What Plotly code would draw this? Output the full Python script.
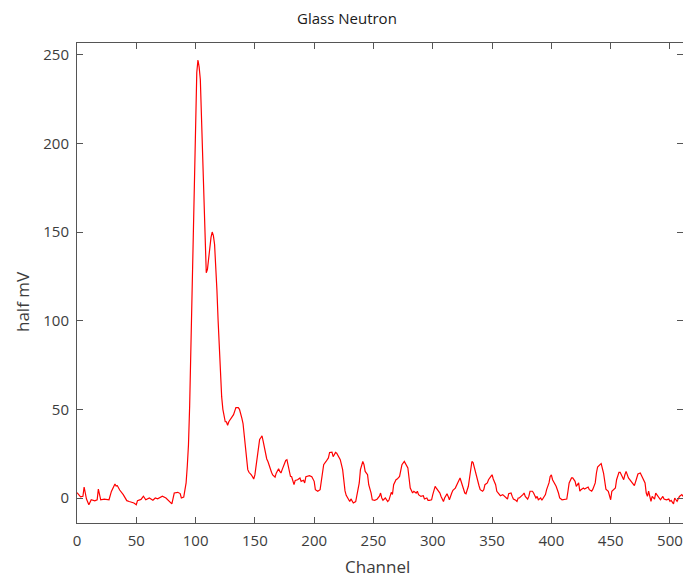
import plotly.graph_objects as go

# Spectrum samples: channel number and signal in half mV
channel = [
    0, 3, 5, 6, 8, 10, 12, 15, 17, 18, 20, 23, 27, 29, 32, 33, 34, 36, 39, 42,
    44, 48, 50, 51, 54, 56, 58, 61, 64, 66, 68, 72, 75, 78, 80, 82, 85, 87, 88, 90,
    92, 93, 94, 95, 96, 97, 98, 99, 100, 101, 102, 103, 104, 105, 106, 107, 108, 109, 110, 111,
    112, 113, 114, 115, 116, 117, 118, 119, 120, 121, 122, 123, 124, 125, 126, 127, 128, 129, 130, 131,
    132, 133, 134, 135, 136, 137, 138, 139, 140, 141, 142, 143, 144, 145, 146, 147, 148, 149, 150, 151,
    152, 153, 154, 155, 156, 157, 158, 159, 160, 161, 162, 163, 164, 165, 166, 167, 168, 169, 170, 171,
    172, 173, 174, 175, 176, 177, 178, 179, 180, 181, 182, 183, 184, 186, 188, 189, 191, 192, 193, 196,
    198, 200, 201, 203, 205, 207, 208, 210, 212, 213, 215, 216, 218, 219, 221, 222, 224, 225, 226, 227,
    229, 230, 231, 233, 235, 236, 238, 239, 241, 242, 243, 245, 246, 248, 249, 251, 253, 255, 256, 257,
    258, 260, 262, 263, 265, 266, 267, 269, 270, 272, 273, 274, 276, 277, 279, 280, 281, 283, 284, 286,
    287, 288, 290, 292, 293, 295, 296, 297, 299, 300, 302, 303, 305, 306, 307, 309, 310, 312, 313, 314,
    316, 317, 319, 320, 321, 323, 324, 326, 327, 328, 330, 331, 332, 333, 334, 335, 336, 337, 339, 340,
    342, 343, 344, 346, 347, 349, 350, 351, 353, 354, 356, 357, 359, 360, 361, 363, 364, 366, 367, 368,
    370, 371, 372, 373, 376, 377, 378, 380, 381, 382, 384, 385, 387, 388, 389, 391, 392, 394, 395, 396,
    398, 399, 400, 401, 403, 404, 406, 407, 409, 411, 413, 414, 415, 417, 418, 420, 421, 423, 424, 425,
    427, 428, 430, 431, 432, 434, 435, 437, 438, 439, 441, 442, 444, 445, 446, 448, 449, 450, 451, 453,
    454, 455, 457, 458, 460, 461, 462, 463, 465, 466, 468, 469, 470, 472, 473, 475, 476, 477, 479, 480,
    481, 482, 484, 485, 487, 488, 490, 491, 492, 494, 495, 497, 499, 500, 501, 503, 504, 506, 507, 508,
    510, 511,
]

half_mv = [
    3.0, 0.6, 1.0, 6.2, -0.6, -3.8, -1.0, -1.6, -1.0, 5.0, -1.0, -0.6, -1.0, 3.7, 7.9, 6.8, 7.0, 4.5, 1.9, -1.5,
    -2.0, -2.8, -3.8, -1.5, -0.8, 1.0, -1.0, 0.0, -1.3, 0.0, -0.5, 1.0, 0.0, -2.0, -3.3, 2.8, 3.2, 2.5, 0.0, 0.5,
    8.5, 18.0, 30.0, 52.0, 85.0, 120.0, 160.0, 195.0, 222.0, 240.0, 247.0, 243.0, 236.0, 212.0, 186.0, 163.0, 142.0, 127.0, 129.0, 136.0,
    143.0, 147.0, 150.0, 148.0, 143.0, 132.0, 117.0, 100.0, 83.0, 70.0, 57.0, 50.0, 45.0, 43.0, 43.0, 41.0, 43.0, 44.0, 45.0, 46.0,
    47.0, 49.0, 51.0, 51.0, 51.0, 50.0, 48.0, 45.0, 42.0, 35.0, 28.0, 21.0, 16.0, 14.5, 14.0, 13.0, 12.0, 10.7, 13.0, 18.0,
    23.0, 27.0, 33.0, 34.0, 35.0, 32.0, 28.0, 24.0, 22.0, 20.6, 18.0, 16.0, 14.5, 13.0, 12.5, 11.8, 14.0, 15.5, 16.5, 15.0,
    14.1, 16.0, 18.0, 20.5, 21.2, 21.6, 19.0, 15.0, 12.2, 12.0, 9.5, 7.5, 9.9, 10.3, 11.3, 9.4, 10.0, 8.5, 12.0, 12.6,
    12.0, 9.4, 4.7, 3.8, 4.7, 13.1, 18.8, 20.6, 22.6, 25.7, 25.9, 23.3, 25.7, 25.3, 22.9, 21.6, 16.0, 8.5, 4.0, 1.5,
    -1.0, -2.0, -0.5, -2.8, -2.0, 0.9, 8.5, 16.0, 20.6, 18.8, 15.0, 13.1, 7.5, 2.8, -1.0, -1.3, -0.7, 1.0, 2.8, 0.0,
    -1.3, 0.0, -2.0, -1.3, 3.2, 2.0, 7.5, 10.3, 10.7, 12.2, 16.0, 18.8, 20.6, 19.6, 16.9, 11.3, 5.6, 2.8, 3.8, 2.8,
    3.8, 1.9, 0.9, 1.3, -0.6, 0.0, -1.3, -1.3, -1.0, 1.9, 6.6, 5.6, 3.8, 2.8, 0.9, -2.0, 0.0, 2.4, 0.9, -1.0,
    2.8, 4.3, 5.6, 7.5, 8.5, 11.3, 9.4, 5.0, 2.8, 2.4, 6.6, 11.3, 15.0, 20.6, 20.0, 17.0, 15.0, 11.3, 6.9, 4.7,
    3.8, 4.7, 7.5, 8.5, 10.3, 12.2, 13.1, 10.7, 7.5, 3.8, 1.9, 1.3, 1.9, 1.3, 0.9, -0.6, 2.4, 2.8, 0.9, -0.6,
    -1.3, -1.9, 0.0, 0.0, 1.9, 2.8, 0.9, -0.6, 0.9, 3.8, 3.8, 2.8, 0.0, 0.9, -1.0, 0.0, -1.3, 0.9, 1.9, 4.7,
    8.5, 12.2, 13.1, 10.3, 7.5, 6.6, 2.8, 0.0, -1.0, -1.0, -0.6, 3.8, 8.5, 11.3, 11.3, 9.4, 6.6, 8.5, 3.8, 4.7,
    5.6, 5.0, 5.6, 6.2, 4.7, 3.8, 5.0, 8.5, 14.1, 17.5, 18.8, 19.4, 14.1, 8.5, 5.0, 3.8, 1.9, -1.0, 3.8, 4.7,
    5.6, 10.3, 14.5, 14.5, 12.2, 10.3, 13.1, 15.0, 11.3, 10.3, 8.8, 7.9, 7.0, 11.3, 13.5, 14.1, 12.8, 10.7, 8.5, 2.8,
    0.9, 3.8, -1.9, 0.9, -0.6, 2.8, 0.9, 0.0, -1.0, 0.9, -0.6, -1.0, -0.6, -1.9, -1.3, -3.3, 0.0, -1.9, 0.0, 0.9,
    1.9, 0.9,
]

x_ticks = [0, 50, 100, 150, 200, 250, 300, 350, 400, 450, 500]
y_ticks = [0, 50, 100, 150, 200, 250]

FONT = "Open Sans"
AXIS_COLOR = "#555555"
TEXT_COLOR = "#3c3c3c"

fig = go.Figure(
    go.Scatter(
        x=channel,
        y=half_mv,
        mode="lines",
        line=dict(color="#ff0000", width=1.2),
        hoverinfo="x+y",
    )
)

axis_common = dict(
    showgrid=False,
    zeroline=False,
    showline=True,
    linecolor=AXIS_COLOR,
    linewidth=1,
    mirror="ticks",
    ticks="inside",
    ticklen=6,
    tickwidth=1,
    tickcolor=AXIS_COLOR,
    tickfont=dict(family=FONT, size=15, color=TEXT_COLOR),
)

fig.update_layout(
    width=683,
    height=578,
    margin=dict(l=77, r=0, t=43, b=55),
    paper_bgcolor="white",
    plot_bgcolor="white",
    showlegend=False,
    xaxis=dict(range=[0, 511], tickvals=x_ticks, ticklabelstandoff=4, **axis_common),
    yaxis=dict(range=[-14.1, 256.6], tickvals=y_ticks, ticklabelstandoff=4, **axis_common),
    annotations=[
        dict(text="Glass Neutron", xref="paper", yref="paper",
             x=(346.5 - 77) / 606, y=1 + (43 - 18) / 480,
             xanchor="center", yanchor="middle", showarrow=False,
             font=dict(family=FONT, size=15, color="#1a1a1a")),
        dict(text="Channel", xref="paper", yref="paper",
             x=(377 - 77) / 606, y=-(566 - 523) / 480,
             xanchor="center", yanchor="middle", showarrow=False,
             font=dict(family=FONT, size=17, color=TEXT_COLOR)),
        dict(text="half mV", xref="paper", yref="paper",
             x=-(77 - 22) / 606, y=(523 - 302) / 480,
             xanchor="center", yanchor="middle", showarrow=False, textangle=-90,
             font=dict(family=FONT, size=17, color=TEXT_COLOR)),
    ],
)

fig.write_html("out.html")
